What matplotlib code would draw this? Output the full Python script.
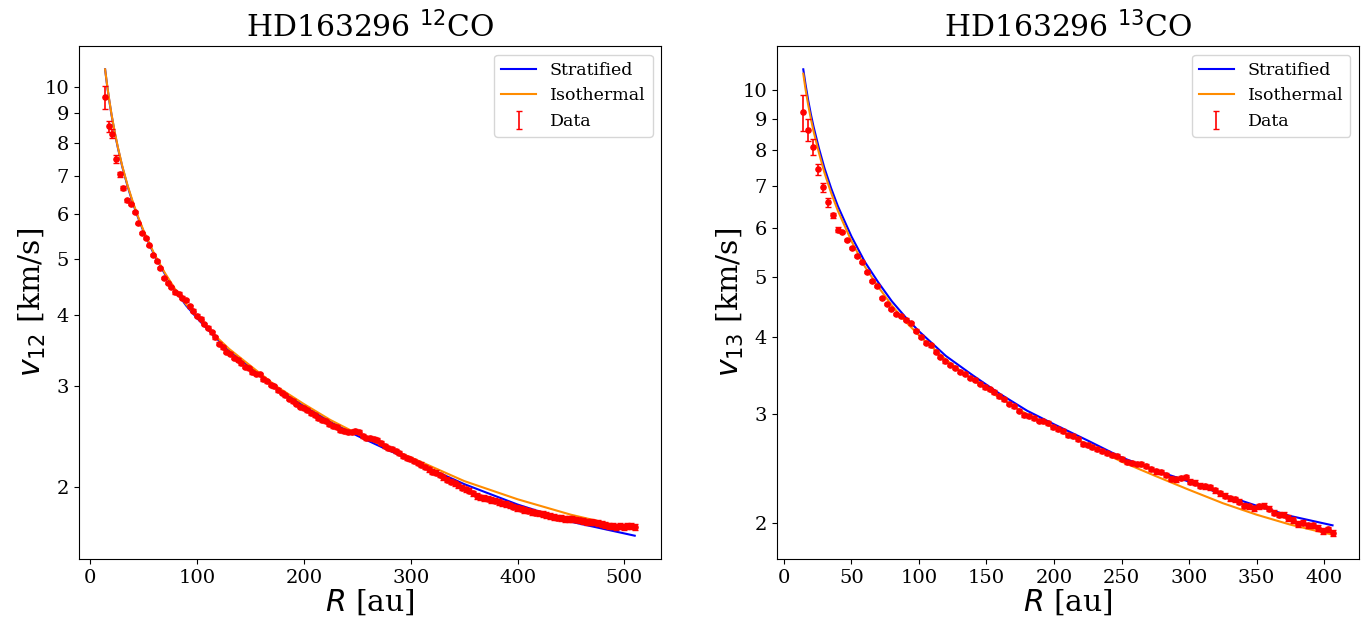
import numpy as np
import matplotlib
matplotlib.use('Agg')
import matplotlib.pyplot as plt
from matplotlib.ticker import FixedLocator, NullLocator, FuncFormatter, MultipleLocator

plt.rcParams['font.family'] = ['DejaVu Serif']
plt.rcParams['mathtext.fontset'] = 'dejavusans'

# ---------------- 12CO panel ----------------
title_12 = 'HD163296 $^{12}$CO'
r12_start, r12_stop = 14.0, 509.7
v12_data = [
    9.61, 8.54, 8.30, 7.48, 7.04, 6.66, 6.35, 6.25, 6.05, 5.78,
    5.57, 5.46, 5.29, 5.10, 4.96, 4.83, 4.64, 4.55, 4.48, 4.38,
    4.36, 4.29, 4.24, 4.14, 4.07, 3.99, 3.94, 3.86, 3.80, 3.73,
    3.655, 3.56, 3.51, 3.45, 3.42, 3.37, 3.34, 3.29, 3.25, 3.225,
    3.18, 3.16, 3.15, 3.09, 3.06, 3.02, 3.00, 2.955, 2.925, 2.895,
    2.855, 2.83, 2.80, 2.765, 2.745, 2.725, 2.695, 2.675, 2.645, 2.62,
    2.605, 2.575, 2.555, 2.545, 2.52, 2.51, 2.50, 2.50, 2.51, 2.50,
    2.46, 2.44, 2.435, 2.43, 2.42, 2.39, 2.36, 2.345, 2.33, 2.315,
    2.295, 2.27, 2.25, 2.24, 2.22, 2.205, 2.19, 2.17, 2.15, 2.13,
    2.12, 2.10, 2.08, 2.06, 2.045, 2.03, 2.015, 1.995, 1.985, 1.97,
    1.95, 1.93, 1.92, 1.915, 1.91, 1.90, 1.895, 1.885, 1.875, 1.87,
    1.86, 1.85, 1.84, 1.835, 1.825, 1.82, 1.81, 1.805, 1.80, 1.795,
    1.79, 1.78, 1.775, 1.77, 1.765, 1.76, 1.76, 1.76, 1.755, 1.75,
    1.745, 1.74, 1.74, 1.735, 1.73, 1.725, 1.715, 1.71, 1.71, 1.705,
    1.71, 1.705, 1.71, 1.71, 1.705,
]
e12_first = [0.45, 0.18, 0.15, 0.12, 0.06, 0.05, 0.04, 0.035]
e12_rest = 0.02

r12_model = [14, 16, 18, 20, 23, 26, 30, 35, 40, 45, 50, 60, 70, 80, 90, 100,
             115, 130, 150, 175, 200, 225, 250, 275, 300, 350, 400, 450, 509.7]
strat12 = [10.75, 10.03, 9.45, 8.95, 8.33, 7.83, 7.27, 6.72, 6.27, 5.91, 5.595,
           5.095, 4.715, 4.405, 4.15, 3.95, 3.69, 3.47, 3.24, 2.975, 2.775,
           2.60, 2.46, 2.34, 2.23, 2.025, 1.865, 1.74, 1.645]
iso12 = [10.75, 10.05, 9.47, 8.97, 8.35, 7.85, 7.29, 6.74, 6.30, 5.93, 5.615,
         5.115, 4.735, 4.425, 4.17, 3.97, 3.71, 3.49, 3.26, 2.995, 2.795,
         2.62, 2.48, 2.36, 2.255, 2.05, 1.905, 1.79, 1.685]

# ---------------- 13CO panel ----------------
title_13 = 'HD163296 $^{13}$CO'
r13_start, r13_stop = 14.4, 406.2
v13_data = [
    9.22, 8.64, 8.10, 7.46, 6.97, 6.59, 6.285, 5.955, 5.895, 5.735,
    5.565, 5.40, 5.28, 5.09, 4.92, 4.83, 4.62, 4.52, 4.43, 4.35,
    4.32, 4.26, 4.20, 4.09, 4.00, 3.91, 3.87, 3.78, 3.71, 3.65,
    3.60, 3.56, 3.51, 3.48, 3.43, 3.405, 3.355, 3.315, 3.285, 3.255,
    3.205, 3.165, 3.115, 3.085, 3.035, 2.985, 2.975, 2.955, 2.925, 2.915,
    2.895, 2.855, 2.835, 2.815, 2.775, 2.765, 2.735, 2.685, 2.675, 2.655,
    2.635, 2.61, 2.59, 2.575, 2.565, 2.535, 2.51, 2.495, 2.49, 2.49,
    2.47, 2.44, 2.42, 2.415, 2.39, 2.355, 2.35, 2.36, 2.37, 2.33,
    2.32, 2.295, 2.29, 2.28, 2.255, 2.23, 2.21, 2.19, 2.18, 2.16,
    2.13, 2.125, 2.11, 2.125, 2.13, 2.105, 2.075, 2.06, 2.06, 2.035,
    2.02, 1.99, 2.00, 1.98, 1.98, 1.96, 1.94, 1.95, 1.925,
]
e13_first = [0.62, 0.35, 0.25, 0.15, 0.12, 0.10, 0.06, 0.05]
e13_rest = 0.02

r13_model = [14.4, 16, 18, 20, 22, 26, 30, 35, 40, 50, 60, 70, 80, 90, 100,
             120, 140, 160, 180, 200, 225, 250, 275, 300, 325, 350, 375, 406.2]
strat13 = [10.82, 10.25, 9.65, 9.155, 8.74, 8.06, 7.50, 6.95, 6.50, 5.81, 5.28,
           4.89, 4.56, 4.30, 4.08, 3.72, 3.46, 3.23, 3.035, 2.885, 2.715, 2.55,
           2.43, 2.33, 2.22, 2.13, 2.05, 1.98]
iso13 = [10.645, 10.07, 9.485, 9.00, 8.59, 7.925, 7.37, 6.83, 6.39, 5.71, 5.19,
         4.81, 4.49, 4.23, 4.02, 3.67, 3.40, 3.18, 2.995, 2.845, 2.675, 2.51,
         2.38, 2.26, 2.15, 2.06, 1.985, 1.912]


def draw(ax, r_start, r_stop, vdata, e_first, e_rest, r_model, strat, iso,
         title, ylabel, xstep):
    r = np.linspace(r_start, r_stop, len(vdata))
    err = np.array(e_first + [e_rest] * (len(vdata) - len(e_first)))
    ax.plot(r_model, strat, color='blue', lw=1.5, label='Stratified')
    ax.plot(r_model, iso, color='darkorange', lw=1.5, label='Isothermal')
    ax.plot(r, vdata, '.', color='red', ms=7.5)
    ax.errorbar(r, vdata, yerr=err, fmt='none', ecolor='red', elinewidth=1.2,
                capsize=2.5, label='Data')
    ax.set_yscale('log')
    ax.yaxis.set_major_locator(FixedLocator([2, 3, 4, 5, 6, 7, 8, 9, 10]))
    ax.yaxis.set_major_formatter(FuncFormatter(lambda y, p: f'{y:g}'))
    ax.yaxis.set_minor_locator(NullLocator())
    ax.xaxis.set_major_locator(MultipleLocator(xstep))
    ax.tick_params(labelsize=14)
    ax.set_title(title, fontsize=21.5)
    ax.set_xlabel('$R$ [au]', fontsize=21.5, labelpad=0.5)
    ax.set_ylabel(ylabel, fontsize=21.5, labelpad=-2.5)
    ax.legend(loc='upper right', fontsize=12.5)


fig = plt.figure(figsize=(13.65, 6.19), dpi=100)
ax1 = fig.add_axes([0.0576, 0.0969, 0.4268, 0.8288])
ax2 = fig.add_axes([0.5691, 0.0969, 0.4265, 0.8288])

draw(ax1, r12_start, r12_stop, v12_data, e12_first, e12_rest, r12_model,
     strat12, iso12, title_12, '$v_{12}$ [km/s]', 100)
draw(ax2, r13_start, r13_stop, v13_data, e13_first, e13_rest, r13_model,
     strat13, iso13, title_13, '$v_{13}$ [km/s]', 50)

fig.savefig('out.png', dpi=100)
